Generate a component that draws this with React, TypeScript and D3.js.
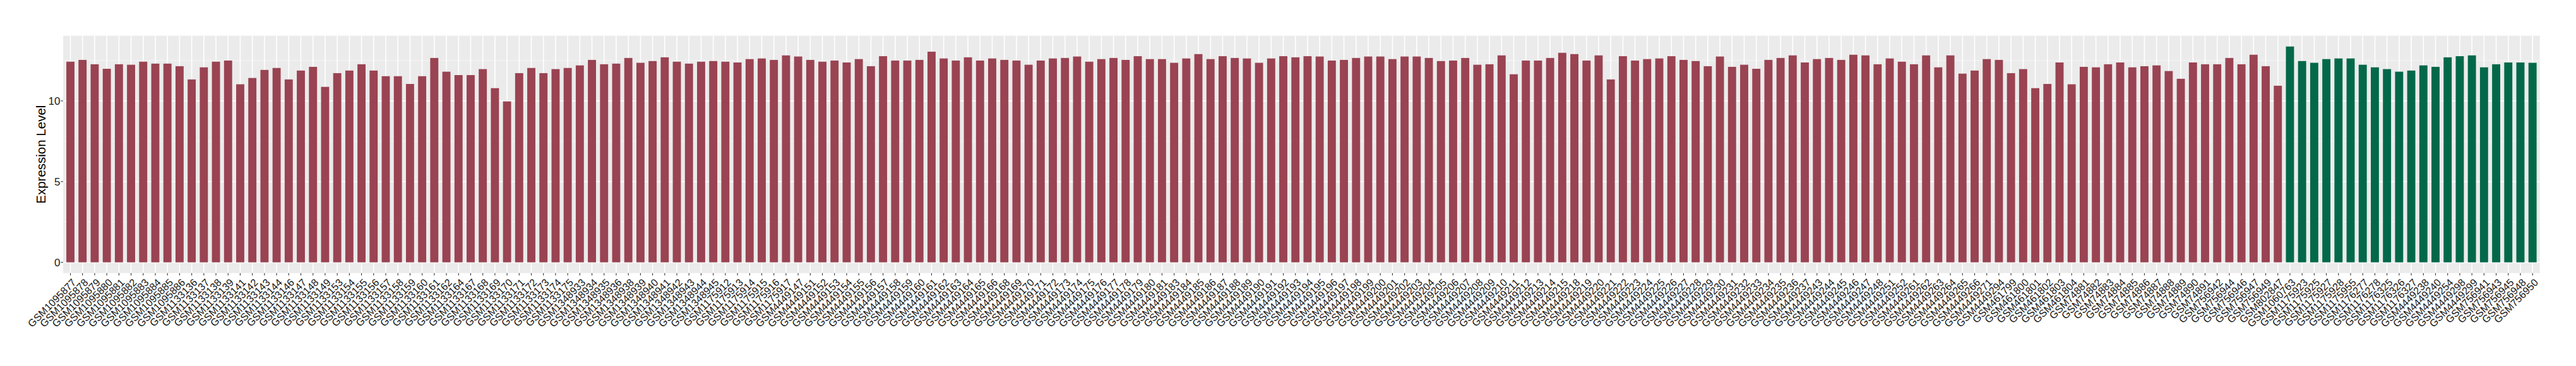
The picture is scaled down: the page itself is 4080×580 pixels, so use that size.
import React from "react";
import * as d3 from "d3";

// ---- Data ----
const groupASamples: string[] = [
  "GSM1095877","GSM1095878","GSM1095879","GSM1095880","GSM1095881","GSM1095882","GSM1095883","GSM1095884","GSM1095885","GSM1095886",
  "GSM1133136","GSM1133137","GSM1133138","GSM1133139","GSM1133141","GSM1133142","GSM1133143","GSM1133144","GSM1133146","GSM1133147",
  "GSM1133148","GSM1133149","GSM1133153","GSM1133154","GSM1133155","GSM1133156","GSM1133157","GSM1133158","GSM1133159","GSM1133160",
  "GSM1133161","GSM1133162","GSM1133164","GSM1133167","GSM1133168","GSM1133169","GSM1133170","GSM1133171","GSM1133172","GSM1133173",
  "GSM1133174","GSM1133175","GSM1348933","GSM1348934","GSM1348935","GSM1348936","GSM1348938","GSM1348939","GSM1348940","GSM1348941",
  "GSM1348942","GSM1348943","GSM1348944","GSM1348945","GSM1175912","GSM1175913","GSM1175914","GSM1175915","GSM1175916","GSM1175917",
  "GSM4449147","GSM4449151","GSM4449152","GSM4449153","GSM4449154","GSM4449155","GSM4449156","GSM4449157","GSM4449158","GSM4449159",
  "GSM4449160","GSM4449161","GSM4449162","GSM4449163","GSM4449164","GSM4449165","GSM4449166","GSM4449168","GSM4449169","GSM4449170",
  "GSM4449171","GSM4449172","GSM4449173","GSM4449174","GSM4449175","GSM4449176","GSM4449177","GSM4449178","GSM4449179","GSM4449180",
  "GSM4449181","GSM4449183","GSM4449184","GSM4449185","GSM4449186","GSM4449187","GSM4449188","GSM4449189","GSM4449190","GSM4449191",
  "GSM4449192","GSM4449193","GSM4449194","GSM4449195","GSM4449196","GSM4449197","GSM4449198","GSM4449199","GSM4449200","GSM4449201",
  "GSM4449202","GSM4449203","GSM4449204","GSM4449205","GSM4449206","GSM4449207","GSM4449208","GSM4449209","GSM4449210","GSM4449211",
  "GSM4449212","GSM4449213","GSM4449214","GSM4449215","GSM4449218","GSM4449219","GSM4449220","GSM4449221","GSM4449222","GSM4449223",
  "GSM4449224","GSM4449225","GSM4449226","GSM4449227","GSM4449228","GSM4449229","GSM4449230","GSM4449231","GSM4449232","GSM4449233",
  "GSM4449234","GSM4449235","GSM4449236","GSM4449237","GSM4449243","GSM4449244","GSM4449245","GSM4449246","GSM4449247","GSM4449248",
  "GSM4449251","GSM4449252","GSM4449261","GSM4449262","GSM4449263","GSM4449264","GSM4449265","GSM4449266","GSM4449271","GSM4449294",
  "GSM461799","GSM461800","GSM461801","GSM461802","GSM461803","GSM461804","GSM74881","GSM74882","GSM74883","GSM74884",
  "GSM74885","GSM74886","GSM74887","GSM74888","GSM74889","GSM74890","GSM74891","GSM756942","GSM756944","GSM756946",
  "GSM756947","GSM756949","GSM802847",
];

const groupAValues: number[] = [
  12.43, 12.54, 12.27, 11.99, 12.27, 12.24, 12.43, 12.31, 12.31, 12.15,
  11.33, 12.08, 12.43, 12.50, 11.03, 11.42, 11.92, 12.04, 11.33, 11.88,
  12.11, 10.87, 11.72, 11.88, 12.27, 11.88, 11.53, 11.53, 11.05, 11.53,
  12.66, 11.81, 11.60, 11.60, 11.97, 10.79, 9.97, 11.72, 12.04, 11.72,
  11.97, 12.04, 12.20, 12.54, 12.27, 12.31, 12.66, 12.36, 12.47, 12.70,
  12.43, 12.31, 12.43, 12.47, 12.43, 12.38, 12.59, 12.63, 12.54, 12.82,
  12.75, 12.54, 12.43, 12.50, 12.38, 12.59, 12.15, 12.77, 12.50, 12.50,
  12.54, 13.05, 12.63, 12.50, 12.70, 12.50, 12.63, 12.54, 12.50, 12.24,
  12.50, 12.63, 12.66, 12.75, 12.43, 12.59, 12.66, 12.54, 12.77, 12.59,
  12.59, 12.36, 12.63, 12.90, 12.59, 12.77, 12.66, 12.63, 12.36, 12.63,
  12.77, 12.70, 12.77, 12.75, 12.50, 12.54, 12.66, 12.75, 12.75, 12.59,
  12.75, 12.75, 12.66, 12.47, 12.50, 12.66, 12.24, 12.27, 12.82, 11.65,
  12.50, 12.50, 12.66, 12.98, 12.90, 12.50, 12.82, 11.33, 12.77, 12.50,
  12.59, 12.63, 12.77, 12.54, 12.47, 12.15, 12.75, 12.11, 12.24, 11.99,
  12.54, 12.66, 12.82, 12.38, 12.59, 12.66, 12.54, 12.86, 12.82, 12.27,
  12.63, 12.43, 12.27, 12.82, 12.08, 12.82, 11.69, 11.88, 12.59, 12.54,
  11.72, 11.97, 10.79, 11.05, 12.38, 11.03, 12.11, 12.08, 12.27, 12.38,
  12.08, 12.15, 12.20, 11.85, 11.37, 12.38, 12.27, 12.27, 12.66, 12.27,
  12.86, 12.15, 10.94,
];

const groupBSamples: string[] = [
  "GSM1060763","GSM1175923","GSM1175925","GSM1175927","GSM1175928","GSM1175955","GSM1176277","GSM1176278","GSM1176325","GSM1176326",
  "GSM1176327","GSM4449238","GSM4449240","GSM4449254","GSM4449298","GSM4449299","GSM756941","GSM756943","GSM756945","GSM756948",
  "GSM756950",
];

const groupBValues: number[] = [
  13.37, 12.47, 12.36, 12.59, 12.63, 12.63, 12.24, 12.08, 11.97, 11.81,
  11.88, 12.20, 12.11, 12.70, 12.77, 12.82, 12.08, 12.27, 12.38, 12.38,
  12.36,
];

const yTicks: number[] = [0, 5, 10];
const yMinorTicks: number[] = [2.5, 7.5, 12.5];
const yTitle = "Expression Level";

const groupColors: Record<string, string> = { A: "#9A4352", B: "#036849" };

// ---- Layout ----
const W = 4080;
const H = 580;
const panel = { left: 100, right: 4022.7, top: 56.6, bottom: 432.8 };

export default function App() {
  const rows = [
    ...groupASamples.map((s, i) => ({ sample: s, value: groupAValues[i], group: "A" })),
    ...groupBSamples.map((s, i) => ({ sample: s, value: groupBValues[i], group: "B" })),
  ];

  const x = d3
    .scaleBand<string>()
    .domain(rows.map((r) => r.sample))
    .range([panel.left, panel.right])
    .paddingInner(0.33)
    .paddingOuter(0.265);

  const yMax = d3.max(rows, (r) => r.value) as number;
  const y = d3
    .scaleLinear()
    .domain([-0.05 * yMax, yMax * 1.05])
    .range([panel.bottom, panel.top]);

  const bw = x.bandwidth();
  const font = "'Liberation Sans', Arial, Helvetica, sans-serif";
  const labelSize = 16.2;

  return (
    <svg
      width={W}
      height={H}
      style={{ position: "absolute", left: 0, top: 0, display: "block", background: "#fff" }}
      fontFamily={font}
    >
      <rect x={0} y={0} width={W} height={H} fill="#ffffff" />
      {/* panel background */}
      <rect
        x={panel.left}
        y={panel.top}
        width={panel.right - panel.left}
        height={panel.bottom - panel.top}
        fill="#EBEBEB"
      />
      {/* minor horizontal grid */}
      {yMinorTicks.map((t) => (
        <line key={"mn" + t} x1={panel.left} x2={panel.right} y1={y(t)} y2={y(t)} stroke="#F7F7F7" strokeWidth={0.9} />
      ))}
      {/* major horizontal grid */}
      {yTicks.map((t) => (
        <line key={"mj" + t} x1={panel.left} x2={panel.right} y1={y(t)} y2={y(t)} stroke="#ffffff" strokeWidth={1.6} />
      ))}
      {/* vertical grid */}
      {rows.map((r) => {
        const cx = (x(r.sample) as number) + bw / 2;
        return (
          <line key={"vg" + r.sample} x1={cx} x2={cx} y1={panel.top} y2={panel.bottom} stroke="#ffffff" strokeWidth={1.6} />
        );
      })}
      {/* bars */}
      {rows.map((r) => (
        <rect
          key={"b" + r.sample}
          x={x(r.sample) as number}
          y={y(r.value)}
          width={bw}
          height={y(0) - y(r.value)}
          fill={groupColors[r.group]}
        />
      ))}
      {/* y axis ticks and labels */}
      {yTicks.map((t) => (
        <g key={"yt" + t}>
          <line x1={panel.left - 3.7} x2={panel.left} y1={y(t)} y2={y(t)} stroke="#333333" strokeWidth={1.1} />
          <text
            x={panel.left - 4.5}
            y={y(t)}
            dy="0.36em"
            textAnchor="end"
            fontSize={17}
            fill="#1a1a1a"
          >
            {t}
          </text>
        </g>
      ))}
      {/* x axis ticks and labels */}
      {rows.map((r) => {
        const cx = (x(r.sample) as number) + bw / 2;
        return (
          <g key={"xt" + r.sample}>
            <line x1={cx} x2={cx} y1={panel.bottom} y2={panel.bottom + 3.7} stroke="#333333" strokeWidth={1.1} />
            <text
              transform={`translate(${cx + 1},${panel.bottom + 7}) rotate(-45)`}
              x={0}
              y={0}
              dy="0.78em"
              textAnchor="end"
              fontSize={labelSize}
              fill="#1a1a1a"
            >
              {r.sample}
            </text>
          </g>
        );
      })}
      {/* y axis title */}
      <text
        transform={`translate(${72},${(panel.top + panel.bottom) / 2}) rotate(-90)`}
        textAnchor="middle"
        fontSize={20.5}
        fill="#000000"
      >
        {yTitle}
      </text>
    </svg>
  );
}
